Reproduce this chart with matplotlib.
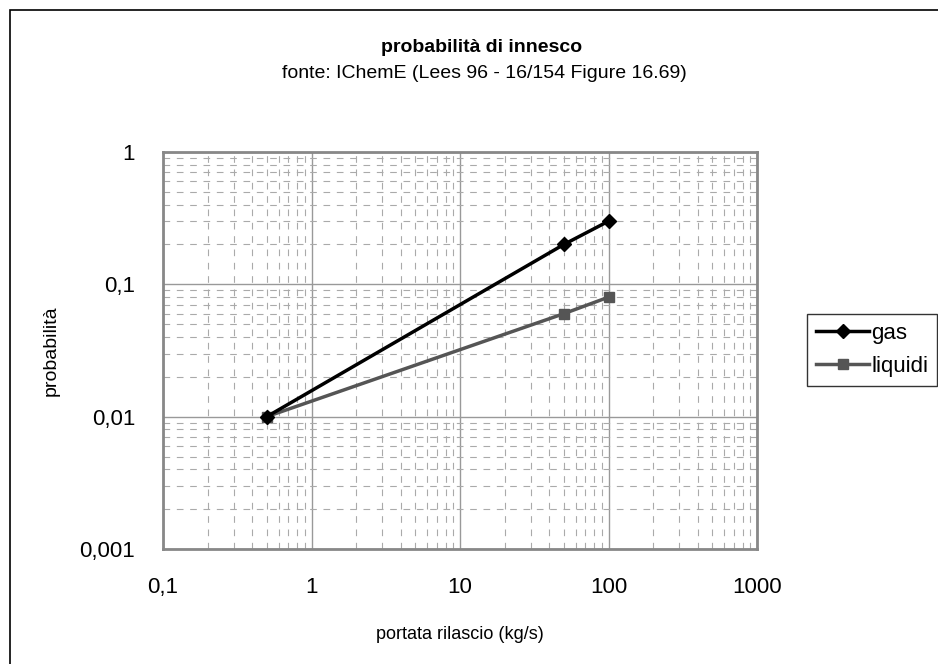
import matplotlib.pyplot as plt
from matplotlib.patches import Rectangle
from matplotlib.ticker import FixedLocator, LogLocator, NullFormatter

# data
portata = [0.5, 50, 100]
gas = [0.01, 0.2, 0.3]
liquidi = [0.01, 0.06, 0.08]

x_ticks = [0.1, 1, 10, 100, 1000]
x_labels = ['0,1', '1', '10', '100', '1000']
y_ticks = [0.001, 0.01, 0.1, 1]
y_labels = ['0,001', '0,01', '0,1', '1']

plt.rcParams['font.family'] = ['Liberation Sans', 'DejaVu Sans']

fig = plt.figure(figsize=(9.38, 6.64), dpi=100)
ax = fig.add_axes([163 / 938, 1 - 549 / 664, 594 / 938, 397 / 664])

# outer chart border (right and bottom edges fall outside the picture)
fig.patches.append(Rectangle((10 / 938, -0.05), 1.1, 1 - 10 / 664 + 0.05,
                             transform=fig.transFigure, fill=False,
                             edgecolor='black', linewidth=1.2))

ax.plot(portata, gas, color='black', linewidth=2.5, marker='D',
        markersize=7, label='gas', zorder=5)
ax.plot(portata, liquidi, color='#555555', linewidth=2.5, marker='s',
        markersize=7, label='liquidi', zorder=4)

ax.set_xscale('log')
ax.set_yscale('log')
ax.set_xlim(0.1, 1000)
ax.set_ylim(0.001, 1)

ax.xaxis.set_major_locator(FixedLocator(x_ticks))
ax.set_xticklabels(x_labels)
ax.yaxis.set_major_locator(FixedLocator(y_ticks))
ax.set_yticklabels(y_labels)
ax.xaxis.set_minor_locator(LogLocator(base=10, subs=range(2, 10)))
ax.yaxis.set_minor_locator(LogLocator(base=10, subs=range(2, 10)))
ax.xaxis.set_minor_formatter(NullFormatter())
ax.yaxis.set_minor_formatter(NullFormatter())
ax.tick_params(which='both', length=0)
ax.tick_params(axis='x', pad=20, labelsize=16)
ax.tick_params(axis='y', pad=20, labelsize=16)

ax.grid(True, which='major', color='#999999', linewidth=1.0, linestyle='-')
ax.grid(True, which='minor', color='#aaaaaa', linewidth=0.8,
        linestyle=(0, (6, 6)))
ax.set_axisbelow(True)

for s in ax.spines.values():
    s.set_color('#888888')
    s.set_linewidth(2)

ax.set_xlabel('portata rilascio (kg/s)', fontsize=13, labelpad=20)
ax.set_ylabel('probabilità', fontsize=14, labelpad=14)

# titles sit slightly right of the figure centre in the original
fig.text(482 / 938, 1 - 47 / 664, 'probabilità di innesco', ha='center',
         va='center', fontsize=14, fontweight='bold')
fig.text(484 / 938, 1 - 74 / 664, 'fonte: IChemE (Lees 96 - 16/154 Figure 16.69)',
         ha='center', va='center', fontsize=14)

leg = ax.legend(loc='center left', bbox_to_anchor=(807 / 938, 1 - 350 / 664),
                bbox_transform=fig.transFigure, fontsize=16, frameon=True,
                fancybox=False, edgecolor='black', borderpad=0.4,
                handlelength=2.4, handletextpad=0.1, labelspacing=0.55,
                borderaxespad=0)
leg.get_frame().set_linewidth(1.0)

fig.savefig('out.png', dpi=100)
